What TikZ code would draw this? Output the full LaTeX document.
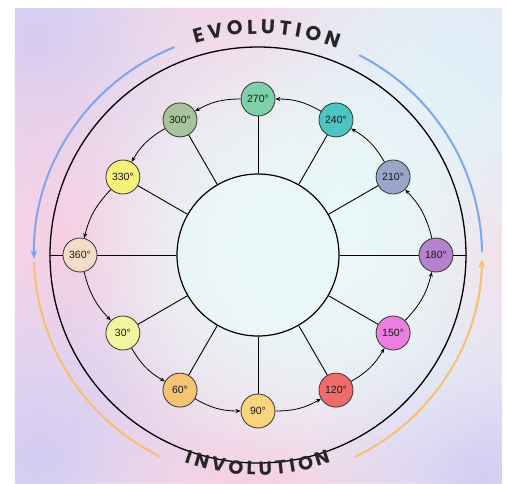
\documentclass[tikz,border=0pt]{standalone}
\usepackage{fontspec}
\setmainfont{Liberation Sans}
\newfontfamily\titlefont{Poppins}
\usetikzlibrary{arrows.meta,decorations.text,fadings}
\tikzfading[name=blobfade, inner color=transparent!0, outer color=transparent!100]
\pgfdeclarelayer{back}\pgfdeclarelayer{lines}
\pgfsetlayers{back,lines,main}
\definecolor{cA}{HTML}{7ED0A8}% 270
\definecolor{cB}{HTML}{A8C49A}% 300
\definecolor{cC}{HTML}{4CC4C4}% 240
\definecolor{cD}{HTML}{F4F07A}% 330
\definecolor{cE}{HTML}{9AA6C8}% 210
\definecolor{cF}{HTML}{F6DCC6}% 360
\definecolor{cG}{HTML}{B483CC}% 180
\definecolor{cH}{HTML}{F2F4A0}% 30
\definecolor{cI}{HTML}{EC7EE0}% 150
\definecolor{cJ}{HTML}{F6C274}% 60
\definecolor{cK}{HTML}{F8D47C}% 90
\definecolor{cL}{HTML}{F26B6B}% 120
\definecolor{evoblue}{HTML}{7EA6EC}
\definecolor{invorange}{HTML}{F5C070}
\definecolor{bgbase}{HTML}{ECE6F4}
\definecolor{blobpink}{HTML}{F8CCE2}
\definecolor{bloblav}{HTML}{D4CCF2}
\definecolor{blobblue}{HTML}{DCEAF8}
\definecolor{blobcyan}{HTML}{EAF8F8}
\begin{document}
\begin{tikzpicture}[x=1pt,y=1pt,
  stage/.style={circle, draw=black!80, line width=0.8pt, minimum size=34pt, inner sep=0pt,
    font=\fontsize{10.5}{10.5}\selectfont, text=black!90},
  ringarrow/.style={-{Stealth[length=5pt,width=4pt]}, line width=0.8pt, bend right=15},
  spoke/.style={line width=0.9pt},
  bigarc/.style={line width=2pt, line cap=round},
  blob/.style={path fading=blobfade}
]
\useasboundingbox (-258,-228) rectangle (249,255);
\begin{pgfonlayer}{back}
  \fill[white] (-258,-228) rectangle (249,255);
  \fill[bgbase] (-243,-228) rectangle (244,247);
  \begin{scope}
    \clip (-243,-228) rectangle (244,247);
    \fill[bloblav, blob] (-220,210) circle (200);
    \fill[blobpink, blob] (0,240) circle (170);
    \fill[blobblue, blob] (200,180) circle (220);
    \fill[blobpink, blob] (-170,10) circle (240);
    \fill[blobpink, blob] (240,0) circle (120);
    \fill[bloblav, blob] (-220,-200) circle (200);
    \fill[blobpink, blob] (0,-240) circle (200);
    \fill[bloblav, blob] (220,-210) circle (170);
    \fill[blobcyan, blob] (90,40) circle (300);
    \fill[blobcyan, blob] (20,0) circle (200);
  \end{scope}
\end{pgfonlayer}

% circles
\node[circle, draw=black, line width=1.3pt, minimum size=416pt, inner sep=0pt] (outer) at (0,0) {};
\node[circle, draw=black, line width=1.2pt, minimum size=162pt, inner sep=0pt, fill=blobcyan, fill opacity=0.7] (inner) at (0,0) {};

% stage nodes
\node[stage, fill=cF] (n360) at (180:178) {360°};
\node[stage, fill=cH] (n30)  at (210:156) {30°};
\node[stage, fill=cJ] (n60)  at (240:156) {60°};
\node[stage, fill=cK] (n90)  at (270:156) {90°};
\node[stage, fill=cL] (n120) at (300:156) {120°};
\node[stage, fill=cI] (n150) at (330:156) {150°};
\node[stage, fill=cG] (n180) at (0:178)   {180°};
\node[stage, fill=cE] (n210) at (30:156)  {210°};
\node[stage, fill=cC] (n240) at (60:156)  {240°};
\node[stage, fill=cA] (n270) at (90:156)  {270°};
\node[stage, fill=cB] (n300) at (120:156) {300°};
\node[stage, fill=cD] (n330) at (150:156) {330°};

\begin{pgfonlayer}{lines}
  \draw[spoke] (outer.west) -- (inner.west);
  \draw[spoke] (outer.east) -- (inner.east);
  \foreach \n in {n30,n60,n90,n120,n150,n210,n240,n270,n300,n330}
    \draw[spoke] (inner) -- (\n);
\end{pgfonlayer}

% ring arrows
\draw[ringarrow] (n360) to (n30);
\draw[ringarrow] (n30) to (n60);
\draw[ringarrow] (n60) to (n90);
\draw[ringarrow] (n90) to (n120);
\draw[ringarrow] (n120) to (n150);
\draw[ringarrow] (n150) to (n180);
\draw[ringarrow] (n180) to (n210);
\draw[ringarrow] (n210) to (n240);
\draw[ringarrow] (n240) to (n270);
\draw[ringarrow] (n270) to (n300);
\draw[ringarrow] (n300) to (n330);
\draw[ringarrow] (n330) to (n360);

% evolution / involution arcs
\draw[bigarc, evoblue, -{Stealth[length=9pt,width=7pt]}] (112:224) arc (112:181:224);
\draw[bigarc, evoblue] (63:224) arc (63:1:224);
\draw[bigarc, invorange, -{Stealth[length=9pt,width=7pt]}] (-64:224) arc (-64:-1:224);
\draw[bigarc, invorange] (-178:224) arc (-178:-116:224);

% titles
\path[decorate, decoration={text along path, text align={fit to path},
  text={|\titlefont\bfseries\fontsize{20}{20}\selectfont\color{black!85}|EVOLUTION}}]
  (106.5:221) arc (106.5:69:221);
\path[decorate, decoration={text along path, text align={fit to path},
  text={|\titlefont\bfseries\fontsize{19}{19}\selectfont\color{black!85}|INVOLUTION}}]
  (-109.5:220) arc (-109.5:-70.5:220);
\end{tikzpicture}
\end{document}
